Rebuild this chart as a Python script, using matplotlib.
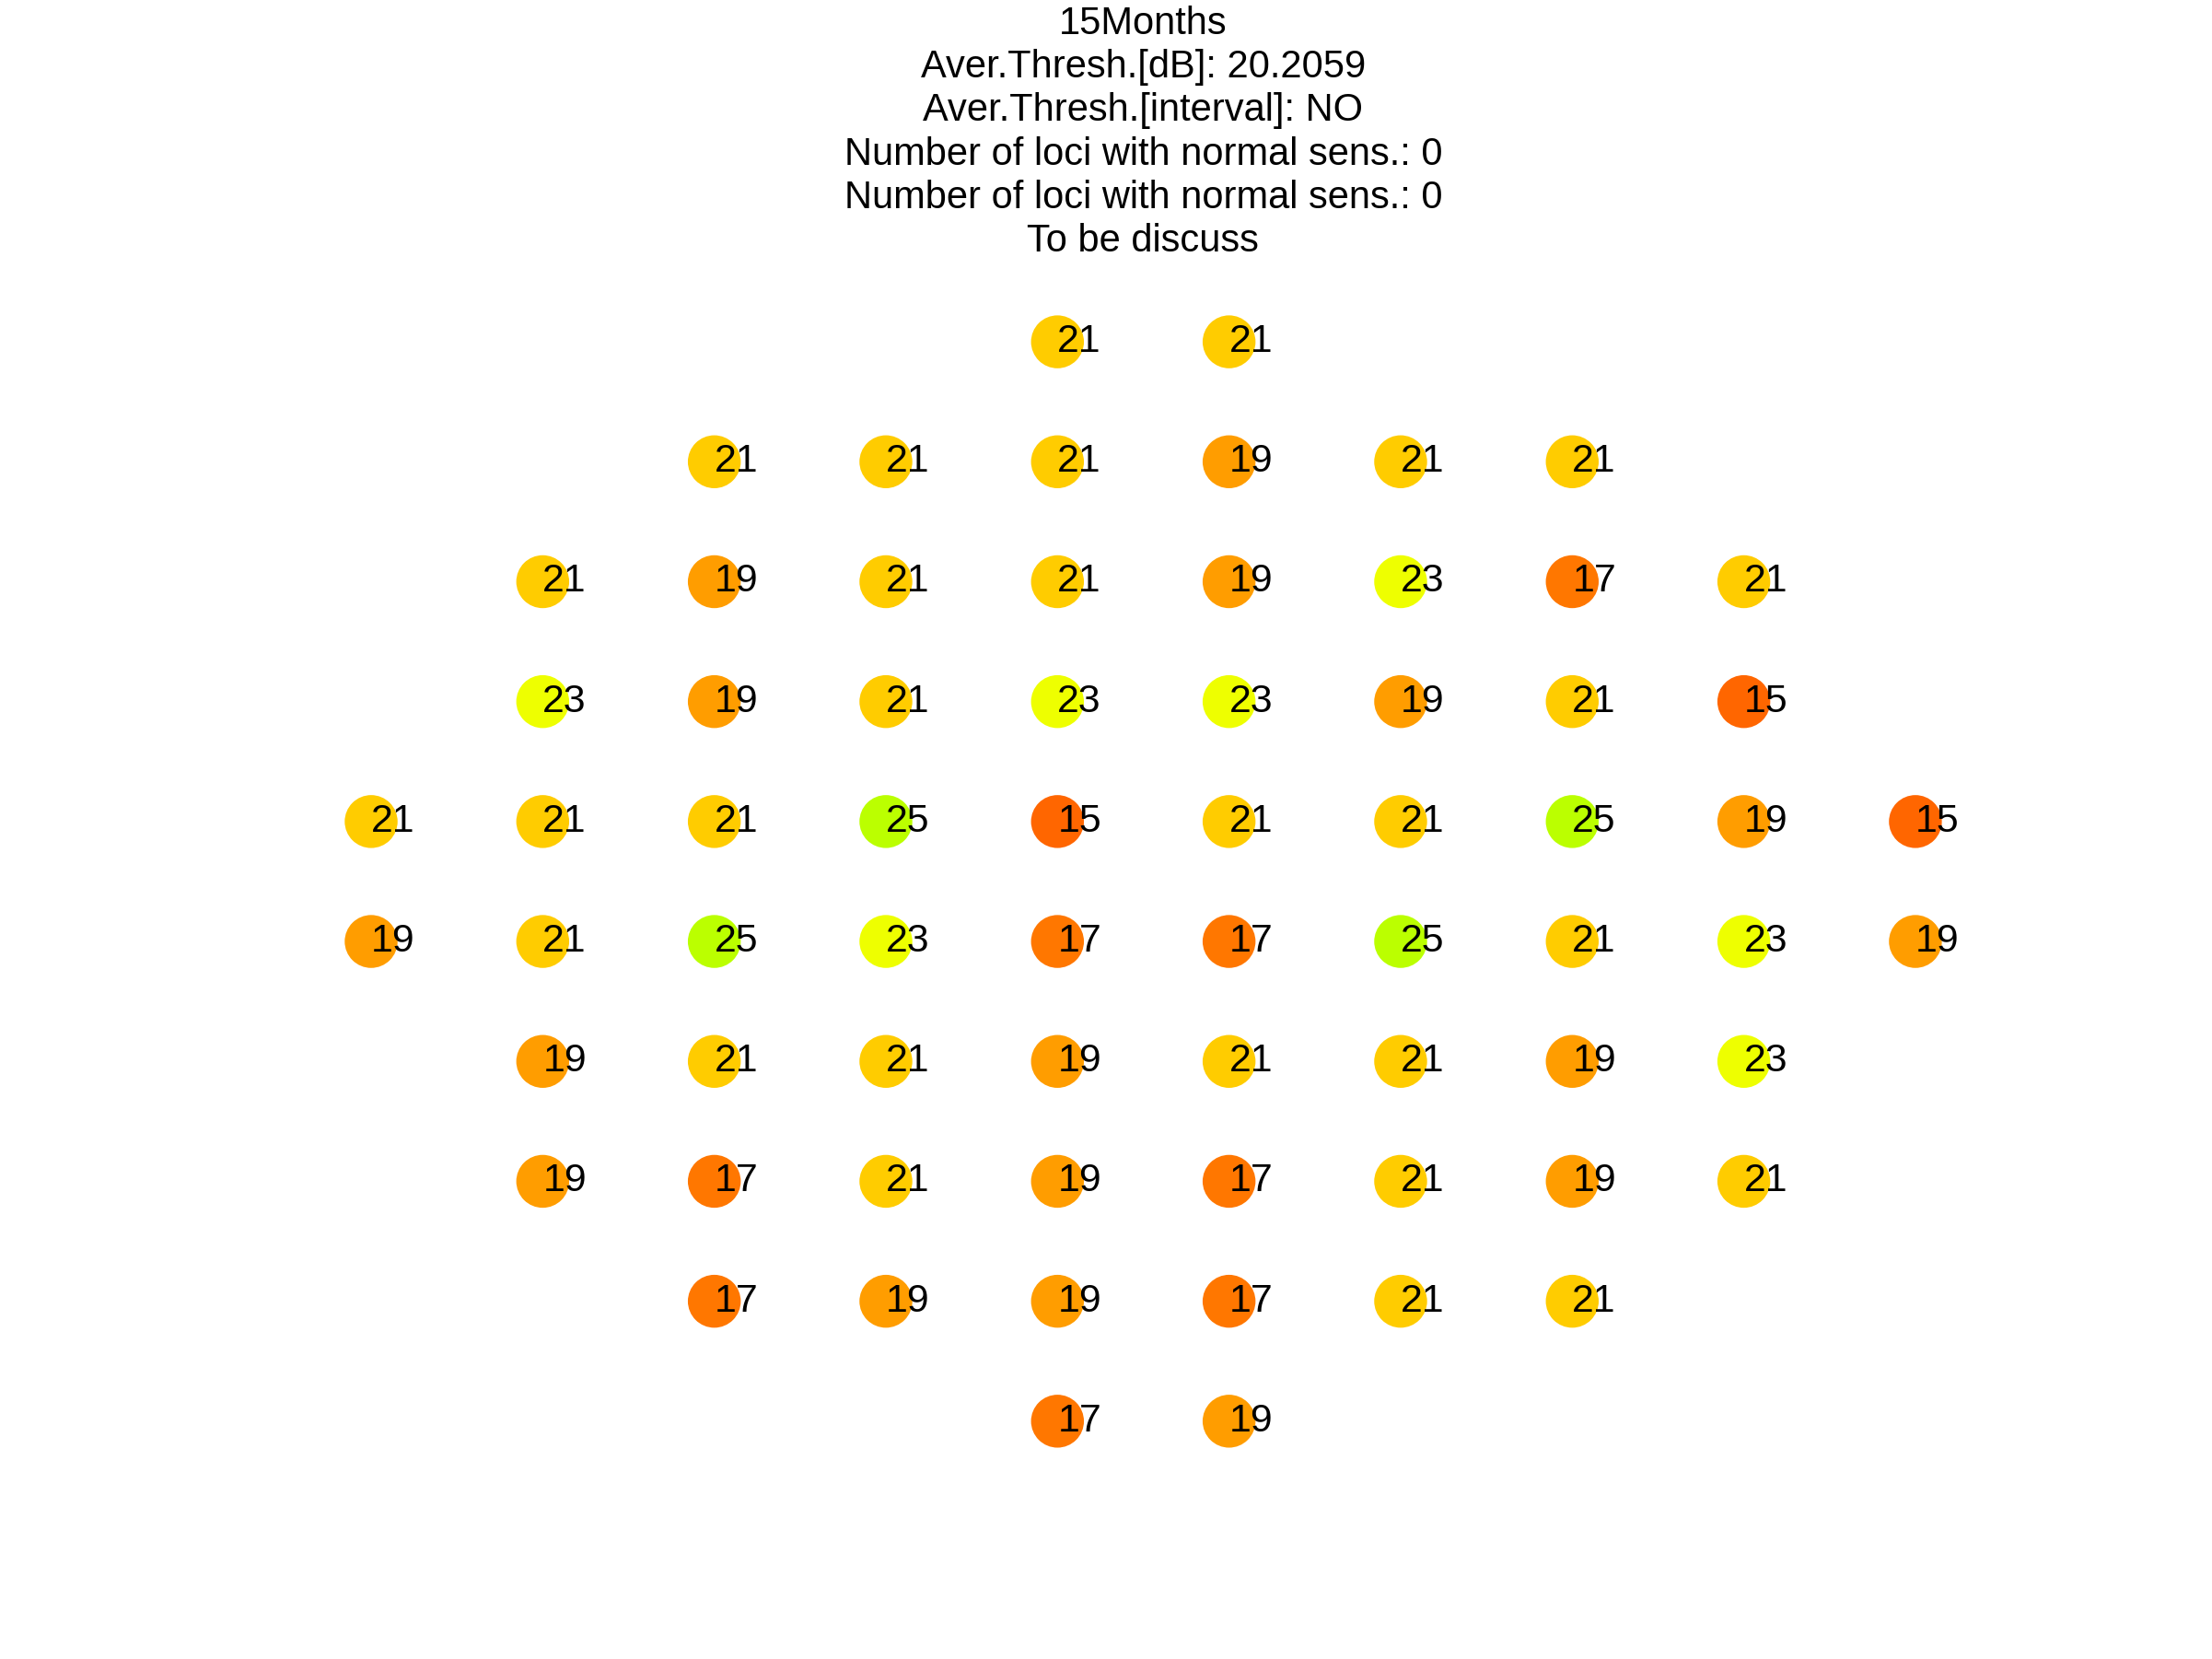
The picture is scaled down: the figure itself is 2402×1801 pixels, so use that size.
import matplotlib
matplotlib.use("Agg")
import matplotlib.pyplot as plt

plt.rcParams['font.family'] = ['Liberation Sans', 'DejaVu Sans']

# threshold values, rows top to bottom, None = no test locus
N = None
grid = [
    [N, N, N, N, 21, 21, N, N, N, N],
    [N, N, 21, 21, 21, 19, 21, 21, N, N],
    [N, 21, 19, 21, 21, 19, 23, 17, 21, N],
    [N, 23, 19, 21, 23, 23, 19, 21, 15, N],
    [21, 21, 21, 25, 15, 21, 21, 25, 19, 15],
    [19, 21, 25, 23, 17, 17, 25, 21, 23, 19],
    [N, 19, 21, 21, 19, 21, 21, 19, 23, N],
    [N, 19, 17, 21, 19, 17, 21, 19, 21, N],
    [N, N, 17, 19, 19, 17, 21, 21, N, N],
    [N, N, N, N, 17, 19, N, N, N, N],
]

# colour per dB value
colours = {15: '#FF6600', 17: '#FF7700', 19: '#FF9D00',
           21: '#FFCC00', 23: '#EEFF00', 25: '#BBFF00'}

title_lines = ['15Months',
               'Aver.Thresh.[dB]: 20.2059',
               'Aver.Thresh.[interval]: NO',
               'Number of loci with normal sens.: 0',
               'Number of loci with normal sens.: 0',
               'To be discuss']

fig = plt.figure(figsize=(2402/300, 1801/300), dpi=300)
ax = fig.add_axes([0.129, 0.1072, 0.7757, 0.7229])

xs, ys, cs, vals = [], [], [], []
for r, row in enumerate(grid):
    for c, v in enumerate(row):
        if v is None:
            continue
        xs.append(c)
        ys.append(r)
        cs.append(colours[v])
        vals.append(v)

ax.scatter(xs, ys, s=190, c=cs, linewidths=0, zorder=2)
for x, y, v in zip(xs, ys, vals):
    ax.text(x, y, str(v), ha='left', va='center', fontsize=10.3, zorder=3)

ax.set_xlim(-0.5, 9.5)
ax.set_ylim(9.5, -0.5)
ax.axis('off')

for i, line in enumerate(title_lines):
    fig.text(0.5168, 1 - (26 + i*47.2)/1801, line, ha='center', va='center',
             fontsize=10)

fig.savefig('out.png', dpi=300)
